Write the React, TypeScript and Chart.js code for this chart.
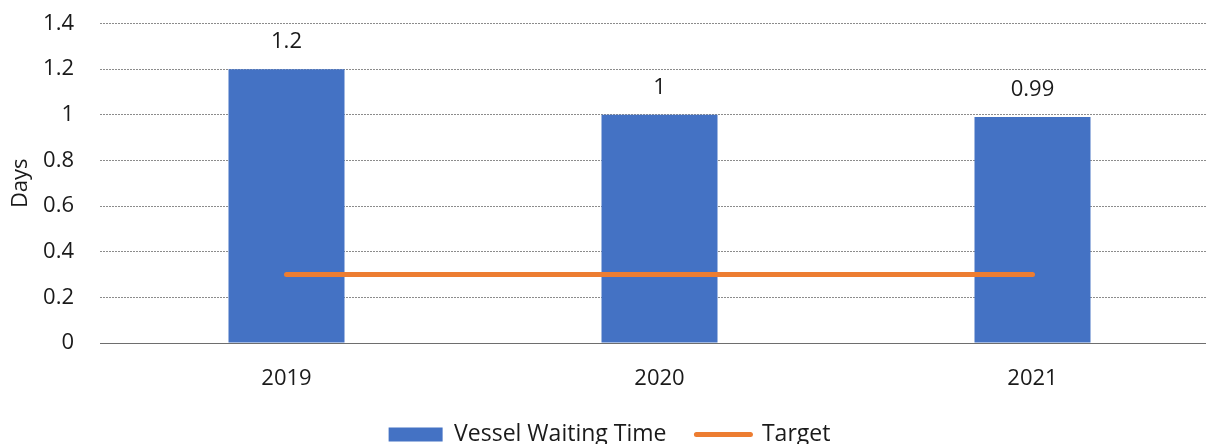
import React, { useEffect, useRef } from "react";
import { Chart, registerables } from "chart.js";

Chart.register(...registerables);

const years = ["2019", "2020", "2021"];
const waitingDays = [1.2, 1, 0.99];
const targetDays = [0.3, 0.3, 0.3];
const yTicks = [0, 0.2, 0.4, 0.6, 0.8, 1, 1.2, 1.4];

const BLUE = "#4472C4";
const ORANGE = "#ED7D31";
const TEXT = "#1a1a1a";
const FONT = "'Open Sans', 'Noto Sans', sans-serif";

// Value labels above each bar
const barValueLabels = {
  id: "barValueLabels",
  afterDatasetsDraw(chart: any) {
    const meta = chart.getDatasetMeta(0);
    const ctx = chart.ctx;
    ctx.save();
    ctx.font = `22px ${FONT}`;
    ctx.fillStyle = TEXT;
    ctx.textAlign = "center";
    ctx.textBaseline = "middle";
    meta.data.forEach((bar: any, i: number) => {
      ctx.fillText(String(waitingDays[i]), bar.x, bar.y - 27);
    });
    ctx.restore();
  },
};

export default function App() {
  const canvasRef = useRef<HTMLCanvasElement | null>(null);

  useEffect(() => {
    if (!canvasRef.current) return;
    const chart = new Chart(canvasRef.current, {
      type: "bar",
      data: {
        labels: years,
        datasets: [
          {
            type: "bar",
            label: "Vessel Waiting Time",
            data: waitingDays,
            backgroundColor: BLUE,
            borderWidth: 0,
            categoryPercentage: 1,
            barPercentage: 0.311,
          },
          {
            type: "line",
            label: "Target",
            data: targetDays,
            borderColor: ORANGE,
            backgroundColor: ORANGE,
            borderWidth: 5,
            borderCapStyle: "round",
            pointRadius: 0,
            order: -1,
          } as any,
        ],
      },
      options: {
        responsive: false,
        animation: false,
        devicePixelRatio: 1,
        layout: { padding: { top: 23.5, left: 0, right: 0, bottom: 0 } },
        plugins: {
          tooltip: { enabled: false },
          legend: {
            position: "bottom",
            labels: {
              usePointStyle: true,
              pointStyleWidth: 54,
              boxHeight: 14,
              padding: 30,
              color: TEXT,
              font: { family: FONT, size: 23 },
              generateLabels: () => [
                {
                  text: "Vessel Waiting Time",
                  fillStyle: BLUE,
                  strokeStyle: BLUE,
                  lineWidth: 0,
                  pointStyle: "rect",
                  datasetIndex: 0,
                  fontColor: TEXT,
                } as any,
                {
                  text: "Target",
                  fillStyle: ORANGE,
                  strokeStyle: ORANGE,
                  lineWidth: 5,
                  lineCap: "round",
                  pointStyle: "line",
                  datasetIndex: 1,
                  fontColor: TEXT,
                } as any,
              ],
            },
          },
        },
        scales: {
          x: {
            offset: true,
            grid: { display: false, drawTicks: false },
            border: { display: true, color: "#6e6e6e", width: 1 },
            ticks: {
              color: TEXT,
              padding: 23,
              font: { family: FONT, size: 22 },
            },
            afterFit: (scale: any) => {
              scale.height = 50;
            },
          },
          y: {
            min: 0,
            max: 1.4,
            afterBuildTicks: (scale: any) => {
              scale.ticks = yTicks.map((v) => ({ value: v }));
            },
            grid: {
              color: (c: any) => (c.tick && c.tick.value === 0 ? "rgba(0,0,0,0)" : "#8c8c8c"),
              lineWidth: 1,
              drawTicks: false,
            },
            border: { display: false, dash: [2, 1] },
            ticks: {
              color: TEXT,
              padding: 26,
              font: { family: FONT, size: 22 },
              callback: (v: any) => String(Math.round(Number(v) * 10) / 10),
            },
            title: {
              display: true,
              text: "Days",
              color: TEXT,
              font: { family: FONT, size: 22 },
              padding: { top: 8, bottom: 0 },
            },
            afterFit: (scale: any) => {
              scale.width = 100;
              scale.paddingTop = 12;
              scale.paddingBottom = 12;
            },
          },
        },
      },
      plugins: [barValueLabels],
    });
    return () => chart.destroy();
  }, []);

  return (
    <div
      style={{
        position: "fixed",
        left: 0,
        top: 0,
        width: 1206,
        height: 444,
        overflow: "hidden",
        background: "#fff",
      }}
    >
      <canvas ref={canvasRef} width={1219} height={456} style={{ display: "block" }} />
    </div>
  );
}
